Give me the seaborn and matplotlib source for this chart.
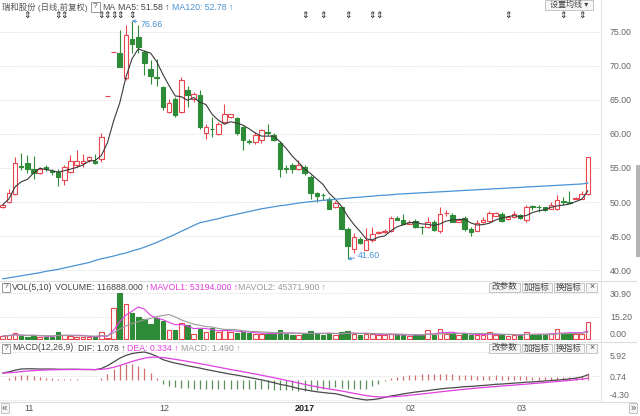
import numpy as np
import pandas as pd
import matplotlib
matplotlib.use("Agg")
import matplotlib.pyplot as plt
import matplotlib.transforms as mtransforms
from matplotlib.patches import Rectangle
from matplotlib.lines import Line2D
import seaborn as sns

# ---------------- data ----------------
opens = [49.25, 50.0, 51.2, 55.3, 55.75, 54.8, 54.3, 55.2, 54.5, 54.4,
         53.3, 54.4, 55.4, 55.7, 56.2, 56.1, 56.25, 65.56, 72.12, 71.85,
         68.2, 73.9, 74.3, 72.1, 69.5, 68.4, 66.95, 63.3, 65.2, 63.3,
         66.5, 65.2, 65.7, 60.1, 60.75, 60.0, 61.8, 62.5, 62.3, 61.0,
         58.9, 58.85, 59.1, 60.3, 59.8, 58.7, 55.0, 55.4, 54.8, 55.2,
         53.7, 51.35, 51.05, 50.5, 49.3, 49.2, 46.1, 43.1, 44.6, 43.0,
         44.4, 45.5, 45.6, 45.7, 47.7, 47.4, 46.8, 47.2, 46.35, 46.3,
         47.1, 45.8, 48.35, 48.05, 47.1, 47.7, 46.1, 45.8, 47.1, 47.2,
         48.0, 48.3, 47.5, 47.8, 48.1, 47.4, 49.35, 49.25, 49.2, 49.0,
         49.0, 50.1, 50.0, 50.4, 50.5, 51.15]
highs = [49.9, 51.9, 56.6, 57.2, 56.9, 56.7, 55.2, 55.4, 54.9, 54.9,
         55.4, 56.9, 57.6, 57.1, 56.8, 57.1, 60.2, 65.56, 72.12, 75.3,
         76.0, 76.66, 76.0, 72.4, 70.9, 71.1, 67.0, 65.2, 65.5, 68.4,
         67.0, 66.2, 66.5, 61.4, 62.5, 61.8, 64.4, 63.0, 62.5, 61.2,
         59.3, 60.3, 60.8, 61.5, 60.1, 58.9, 55.4, 55.7, 56.2, 55.4,
         53.9, 51.5, 51.35, 50.7, 50.2, 49.3, 46.3, 45.4, 44.8, 46.2,
         46.3, 45.8, 46.0, 48.0, 47.9, 48.3, 47.3, 47.5, 46.5, 47.8,
         47.3, 49.2, 48.8, 48.4, 47.6, 47.9, 46.3, 47.3, 47.8, 48.7,
         48.6, 48.5, 47.9, 48.7, 48.2, 49.5, 49.5, 49.5, 49.3, 50.0,
         51.0, 50.7, 51.6, 50.8, 51.6, 56.65]
lows = [49.1, 49.9, 51.1, 54.7, 54.2, 53.4, 54.1, 54.6, 53.9, 52.3,
        52.5, 54.2, 55.2, 55.2, 55.9, 55.6, 55.9, 65.56, 72.12, 69.8,
        68.0, 71.9, 71.9, 68.7, 67.4, 67.0, 63.6, 63.1, 62.5, 63.1,
        64.0, 64.7, 60.8, 59.3, 59.6, 59.8, 61.6, 62.3, 59.8, 57.6,
        58.5, 58.6, 58.7, 59.8, 58.9, 53.7, 54.3, 54.3, 54.7, 54.0,
        50.5, 50.0, 50.3, 48.9, 49.1, 46.0, 41.6, 42.5, 43.8, 42.9,
        44.1, 45.3, 45.5, 45.6, 47.3, 46.7, 46.7, 46.2, 45.3, 46.2,
        45.7, 45.4, 47.9, 47.0, 47.0, 45.8, 45.0, 45.7, 46.9, 47.0,
        47.9, 47.0, 47.4, 47.6, 47.5, 47.1, 48.8, 48.5, 48.7, 48.9,
        48.8, 49.6, 49.8, 50.4, 50.4, 51.0]
closes = [49.6, 51.3, 55.75, 55.2, 54.8, 54.2, 54.9, 54.8, 54.4, 53.7,
          55.2, 56.05, 56.1, 56.1, 56.6, 55.7, 59.6, 65.56, 72.12, 69.9,
          74.6, 73.2, 72.8, 70.4, 68.5, 68.3, 63.9, 64.5, 62.8, 67.9,
          65.7, 65.9, 61.1, 61.0, 60.7, 61.5, 62.9, 62.9, 60.1, 59.1,
          58.85, 59.8, 60.6, 60.1, 59.1, 54.8, 54.9, 54.9, 55.5, 54.2,
          51.35, 50.85, 51.0, 49.0, 49.9, 46.1, 43.6, 44.9, 43.9, 44.4,
          45.35, 45.6, 45.8, 47.6, 47.4, 46.8, 47.1, 46.3, 46.3, 47.1,
          45.9, 48.3, 48.4, 47.1, 47.4, 46.1, 45.6, 46.9, 47.4, 48.4,
          48.4, 47.2, 47.8, 48.2, 47.6, 49.3, 49.3, 49.2, 48.8, 49.5,
          50.3, 50.0, 49.9, 50.6, 51.2, 56.65]
ma120 = [38.7, 38.85, 39.0, 39.15, 39.3, 39.45, 39.6, 39.8, 39.95, 40.1,
         40.3, 40.5, 40.7, 40.9, 41.1, 41.4, 41.65, 41.85, 42.05, 42.3,
         42.5, 42.8, 43.05, 43.35, 43.7, 44.05, 44.45, 44.85, 45.25, 45.7,
         46.1, 46.55, 46.95, 47.15, 47.35, 47.55, 47.8, 48.0, 48.2, 48.4,
         48.6, 48.8, 49.0, 49.15, 49.3, 49.45, 49.55, 49.7, 49.85, 49.95,
         50.05, 50.15, 50.25, 50.3, 50.4, 50.5, 50.55, 50.65, 50.7, 50.8,
         50.85, 50.95, 51.0, 51.05, 51.15, 51.2, 51.25, 51.3, 51.35, 51.4,
         51.45, 51.5, 51.55, 51.6, 51.65, 51.7, 51.75, 51.8, 51.85, 51.9,
         51.95, 52.0, 52.05, 52.1, 52.15, 52.2, 52.25, 52.3, 52.35, 52.4,
         52.45, 52.5, 52.55, 52.6, 52.65, 52.78]
volumes = [2.0, 2.7, 3.8, 2.0, 1.6, 2.5, 1.6, 1.6, 1.6, 4.7,
           2.5, 2.0, 1.6, 1.4, 1.4, 1.1, 4.7, 0.6, 21.2, 30.9,
           23.4, 17.8, 15.1, 13.7, 9.9, 14.4, 12.2, 5.9, 5.9, 10.6,
           9.2, 3.6, 7.0, 5.0, 7.2, 4.5, 6.1, 5.0, 3.8, 5.0,
           3.8, 3.6, 3.4, 3.6, 3.6, 6.1, 3.5, 3.0, 3.0, 3.5,
           5.5, 3.5, 3.0, 4.0, 2.5, 4.5, 5.5, 3.5, 2.5, 3.5,
           3.5, 2.5, 2.5, 3.5, 2.5, 3.0, 2.3, 2.8, 2.8, 6.1,
           3.0, 6.5, 3.4, 4.0, 2.5, 3.5, 3.0, 2.5, 2.8, 4.5,
           2.8, 2.8, 2.3, 2.8, 2.5, 5.0, 3.0, 2.8, 2.8, 3.7,
           6.5, 4.0, 4.0, 3.5, 3.4, 11.69]
dif = [1.45, 1.7, 2.05, 2.3, 2.35, 2.35, 2.3, 2.3, 2.3, 2.25,
       2.25, 2.25, 2.25, 2.2, 2.2, 2.15, 2.4, 3.0, 3.8, 4.6,
       5.2, 5.6, 5.8, 5.92, 5.55, 5.0, 4.3, 3.9, 3.55, 3.3,
       3.0, 2.75, 2.5, 2.2, 1.95, 1.7, 1.45, 1.2, 1.0, 0.75,
       0.5, 0.25, 0.0, -0.3, -0.6, -0.95, -1.2, -1.5, -1.85, -2.1,
       -2.35, -2.55, -2.7, -2.85, -2.95, -3.25, -3.6, -3.9, -4.1, -4.3,
       -4.2, -4.05, -3.75, -3.45, -3.25, -3.0, -2.8, -2.6, -2.45, -2.3,
       -2.1, -1.95, -1.8, -1.7, -1.6, -1.45, -1.4, -1.3, -1.2, -1.1,
       -0.95, -0.9, -0.8, -0.7, -0.62, -0.5, -0.45, -0.35, -0.25, -0.15,
       -0.05, 0.05, 0.2, 0.35, 0.6, 1.078]
dea = [1.45, 1.50, 1.61, 1.75, 1.87, 1.97, 2.04, 2.09, 2.13, 2.15,
       2.17, 2.19, 2.20, 2.20, 2.20, 2.19, 2.23, 2.38, 2.66, 3.05,
       3.48, 3.90, 4.28, 4.61, 4.80, 4.84, 4.73, 4.56, 4.36, 4.15,
       3.92, 3.69, 3.45, 3.20, 2.95, 2.70, 2.45, 2.20, 1.96, 1.72,
       1.48, 1.23, 0.98, 0.72, 0.46, 0.18, -0.10, -0.38, -0.67, -0.96,
       -1.24, -1.50, -1.74, -1.96, -2.16, -2.38, -2.62, -2.88, -3.12, -3.36,
       -3.53, -3.63, -3.65, -3.61, -3.54, -3.43, -3.30, -3.16, -3.02, -2.88,
       -2.72, -2.57, -2.42, -2.28, -2.14, -2.00, -1.88, -1.76, -1.65, -1.54,
       -1.42, -1.32, -1.22, -1.12, -1.02, -0.92, -0.80, -0.70, -0.58, -0.47,
       -0.36, -0.25, -0.12, 0.0, 0.15, 0.334]
month_idx = [4, 26, 48, 66, 84]
month_labels = ["11", "12", "2017", "02", "03"]
price_ticks = [75, 70, 65, 60, 55, 50, 45, 40]
vol_ticks = [30.90, 15.20, 0.00]
macd_ticks = [5.92, 0.74, -4.30]
info_idx = [4, 9, 10, 16, 17, 18, 19, 21, 49, 52, 56, 60, 61, 82, 91, 94]

# ---------------- style ----------------
sns.set_theme(style="white")
plt.rcParams["font.family"] = ["Liberation Sans", "Noto Sans CJK SC", "DejaVu Sans"]
plt.rcParams["axes.unicode_minus"] = False

W, H = 640, 416
fig = plt.figure(figsize=(W / 100, H / 100), dpi=100)
fig.patch.set_facecolor("white")


def box(x0, y0, x1, y1):
    return [x0 / W, 1 - y1 / H, (x1 - x0) / W, (y1 - y0) / H]


ax_p = fig.add_axes(box(0, 12, 600, 280))
ax_v = fig.add_axes(box(0, 289, 600, 340))
ax_m = fig.add_axes(box(0, 350, 600, 401))

RED = "#e8454f"
GREEN = "#2e8b37"
BLUE = "#4a93d4"
MAG = "#e03ee0"
GRAY = "#9a9a9a"

n = len(closes)
idx = np.arange(n)
o = np.array(opens)
c = np.array(closes)
h = np.array(highs)
l = np.array(lows)
up = c >= o
col = np.where(up, RED, GREEN)
face = np.where(up, "white", GREEN)

# price panel
ax_p.vlines(idx, l, h, colors=col, linewidth=0.8, zorder=2)
ax_p.bar(idx, np.abs(c - o), bottom=np.minimum(o, c), width=0.74,
         color=face, edgecolor=col, linewidth=0.8, zorder=3)
ma5 = pd.Series(closes).rolling(5, min_periods=1).mean().values
sns.lineplot(x=idx, y=ma5, ax=ax_p, color="#3a3a3a", linewidth=0.8, zorder=4)
sns.lineplot(x=idx, y=np.array(ma120), ax=ax_p, color=BLUE, linewidth=0.9, zorder=4)

# volume panel
vol = np.array(volumes)
ax_v.bar(idx, vol, width=0.74, color=face, edgecolor=col, linewidth=0.8)
mavol1 = pd.Series(volumes).rolling(5, min_periods=1).mean().values
mavol2 = pd.Series(volumes).rolling(10, min_periods=1).mean().values
sns.lineplot(x=idx, y=mavol1, ax=ax_v, color=MAG, linewidth=0.8)
sns.lineplot(x=idx, y=mavol2, ax=ax_v, color=GRAY, linewidth=0.8)

# MACD panel
dif_a = np.array(dif)
dea_a = np.array(dea)
macd_bar = 2 * (dif_a - dea_a)
ax_m.vlines(idx, 0, macd_bar, colors=np.where(macd_bar >= 0, "#cf6f6f", "#5f8f5f"),
            linewidth=0.9)
sns.lineplot(x=idx, y=dif_a, ax=ax_m, color="#4a4a4a", linewidth=0.9)
sns.lineplot(x=idx, y=dea_a, ax=ax_m, color=MAG, linewidth=0.9)

for ax in (ax_p, ax_v, ax_m):
    ax.set_xlim(-0.44, 96.96)
    for s in ax.spines.values():
        s.set_visible(False)
    ax.set_facecolor("none")
    ax.yaxis.tick_right()
    ax.tick_params(axis="y", length=0, pad=7.2, labelsize=6.3, labelcolor="#666666")
    ax.tick_params(axis="x", length=0, labelbottom=False)
    ax.grid(True, axis="y", color="#d4d4d4", linestyle=(0, (1, 1.5)), linewidth=0.6)
    ax.grid(False, axis="x")
    ax.set_xlabel("")
    ax.set_ylabel("")

ax_p.set_ylim(38.53, 77.94)
ax_p.set_yticks(price_ticks)
ax_p.set_yticklabels([f"{t:.2f}" for t in price_ticks])
ax_v.set_ylim(-0.68, 33.8)
ax_v.set_yticks(vol_ticks)
ax_v.set_yticklabels([f"{t:.2f}" for t in vol_ticks])
ax_v.get_yticklabels()[2].set_va("bottom")
ax_m.set_ylim(-4.51, 6.35)
ax_m.set_yticks(macd_ticks)
ax_m.set_yticklabels([f"{t:.2f}" for t in macd_ticks])
ax_m.get_yticklabels()[0].set_va("top")
ax_m.get_yticklabels()[2].set_va("bottom")

# date labels
blend_m = mtransforms.blended_transform_factory(ax_m.transData, ax_m.transAxes)
for mi, ml in zip(month_idx, month_labels):
    bold = ml == "2017"
    ax_m.text(mi - 0.55, -7.5 / 51, ml, transform=blend_m, ha="left", va="center",
              fontsize=6.5, color="#222222" if bold else "#555555",
              fontweight="bold" if bold else "normal", clip_on=False)

# info-mine markers
blend_p = mtransforms.blended_transform_factory(ax_p.transData, ax_p.transAxes)
for i in info_idx:
    ax_p.text(i, (280 - 15) / 268, "⇕", transform=blend_p, ha="center", va="center",
              fontsize=6.5, color="#222222", clip_on=False,
              family=["DejaVu Sans"])

# high / low annotations
ax_p.annotate("76.66", xy=(21, 76.66), xytext=(5.8, -2.4), textcoords="offset points",
              ha="left", va="center", fontsize=6.3, color=BLUE,
              arrowprops=dict(arrowstyle="->", color=BLUE, lw=0.6, shrinkA=0, shrinkB=0,
                              mutation_scale=5))
ax_p.annotate("41.60", xy=(56, 41.6), xytext=(7.5, 2.7), textcoords="offset points",
              ha="left", va="center", fontsize=6.3, color=BLUE,
              arrowprops=dict(arrowstyle="->", color=BLUE, lw=0.6, shrinkA=0, shrinkB=0,
                              mutation_scale=5))


# ---------------- frame decorations ----------------
def ftxt(x, y, s, **kw):
    kw.setdefault("fontsize", 6.3)
    kw.setdefault("va", "center")
    fig.text(x / W, 1 - y / H, s, **kw)


def frect(x0, y0, x1, y1, **kw):
    fig.add_artist(Rectangle((x0 / W, 1 - y1 / H), (x1 - x0) / W, (y1 - y0) / H,
                             transform=fig.transFigure, **kw))


def fline(x0, y0, x1, y1, **kw):
    fig.add_artist(Line2D([x0 / W, x1 / W], [1 - y0 / H, 1 - y1 / H],
                          transform=fig.transFigure, **kw))


fline(0, 280.5, 636, 280.5, color="#dddddd", lw=0.8)
fline(0, 341.5, 636, 341.5, color="#dddddd", lw=0.8)
fline(0, 401.5, 636, 401.5, color="#dddddd", lw=0.8)
fline(600.5, 0, 600.5, 401, color="#e6e6e6", lw=0.8)
frect(636, 165, 640, 257, fc="#b5b5b5", ec="none")

# header 1
ftxt(2, 7, "瑞和股份 (日线,前复权)", color="#555555", fontsize=6.0)
frect(91, 2.5, 99.5, 11.5, fc="white", ec="#888888", lw=0.6)
ftxt(95.2, 7, "?", ha="center", color="#555555", fontsize=6)
ftxt(102, 7, "MA", color="#555555")
ftxt(118, 7, "MA5: 51.58 ↑", color="#444444")
ftxt(172, 7, "MA120: 52.78 ↑", color=BLUE)
frect(545, 0.5, 593, 9.5, fc="#f6f6f6", ec="#bbbbbb", lw=0.6)
ftxt(569, 5, "设置均线 ▾", ha="center", color="#444444", fontsize=5.8)

# header 2 (volume)
frect(2, 282.5, 10, 291.5, fc="white", ec="#888888", lw=0.6)
ftxt(6, 287, "?", ha="center", color="#555555", fontsize=6)
ftxt(12, 287, "VOL(5,10)", color="#444444")
ftxt(55, 287, "VOLUME: 116888.000 ↑", color="#444444")
ftxt(150, 287, "MAVOL1: 53194.000 ↑", color=MAG)
ftxt(238, 287, "MAVOL2: 45371.900 ↑", color=GRAY)

# header 3 (MACD)
frect(2, 343.5, 10, 352.5, fc="white", ec="#888888", lw=0.6)
ftxt(6, 348, "?", ha="center", color="#555555", fontsize=6)
ftxt(12, 348, "MACD(12,26,9)", color="#444444")
ftxt(78, 348, "DIF: 1.078 ↑", color="#444444")
ftxt(127, 348, "DEA: 0.334 ↑", color=MAG)
ftxt(181, 348, "MACD: 1.490 ↑", color=GRAY)

for yc in (287, 348):
    for (x0, x1, s) in [(489, 520, "改参数"), (522, 552, "加指标"), (554, 584, "换指标"),
                        (586, 597, "×")]:
        frect(x0, yc - 4.5, x1, yc + 4.5, fc="#f6f6f6", ec="#bbbbbb", lw=0.6)
        ftxt((x0 + x1) / 2, yc, s, ha="center", color="#444444", fontsize=6.2)

# bottom navigation arrows
frect(0.5, 403, 8.5, 413, fc="#f6f6f6", ec="#bbbbbb", lw=0.6)
ftxt(4.5, 408, "«", ha="center", color="#555555", fontsize=7)
frect(629, 403, 637, 413, fc="#f6f6f6", ec="#bbbbbb", lw=0.6)
ftxt(633, 408, "»", ha="center", color="#555555", fontsize=7)

fig.savefig("out.png", dpi=100, facecolor="white")
